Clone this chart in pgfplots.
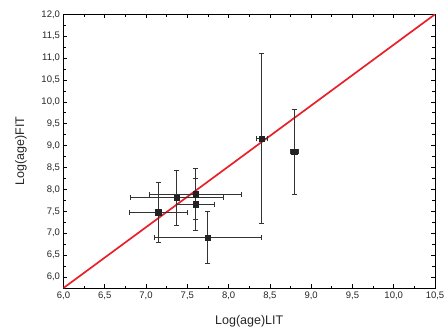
\documentclass[border=0pt]{standalone}
\usepackage{fontspec}
\setmainfont{Liberation Sans}
\usepackage{pgfplots}
\pgfplotsset{compat=1.18}
\definecolor{fitred}{HTML}{E8202A}
\definecolor{pt}{HTML}{222222}
\begin{document}
\begin{tikzpicture}
\useasboundingbox (-63.5pt,-47pt) rectangle (383.5pt,288pt);
\begin{axis}[
  at={(0,0)}, anchor=south west,
  scale only axis, width=371.5pt, height=273.7pt,
  xmin=6, xmax=10.5, ymin=5.75, ymax=12,
  xtick={6,6.5,...,10.5}, ytick={6,6.5,...,12},
  minor x tick num=1, minor y tick num=1,
  tick align=inside, major tick length=4pt, minor tick length=2.5pt,
  axis line style={line width=0.8pt},
  every tick/.style={black, line width=0.7pt},
  /pgf/number format/assume math mode=true,
  /pgf/number format/.cd, use comma, fixed, fixed zerofill, precision=1,
  /pgfplots/.cd,
  tick label style={font=\fontsize{9.5}{11}\selectfont, text=black!85},
  xlabel={Log(age)LIT}, ylabel={Log(age)FIT},
  label style={font=\fontsize{12.5}{14}\selectfont, text=black!85},
  xlabel style={yshift=-9pt},
  ylabel style={yshift=8pt},
]
\addplot[fitred, line width=1.7pt] coordinates {(6,5.75) (10.5,12)};
\addplot[only marks, mark=square*, mark size=2.8pt, color=pt,
  error bars/.cd, x dir=both, x explicit, y dir=both, y explicit,
  error bar style={black!80, line width=0.7pt},
  error mark options={rotate=90, mark size=2.6pt, black!80, line width=0.7pt}]
  table[x error index=2, y error index=3] {
  x y ex ey
  7.148 7.475 0.35 0.69
  7.370 7.809 0.565 0.62
  7.600 7.894 0.56 0.58
  7.600 7.657 0.23 0.60
  7.746 6.902 0.65 0.60
  8.400 9.160 0.07 1.94
  8.794 8.862 0.05 0.97
};
\end{axis}
\end{tikzpicture}
\end{document}
